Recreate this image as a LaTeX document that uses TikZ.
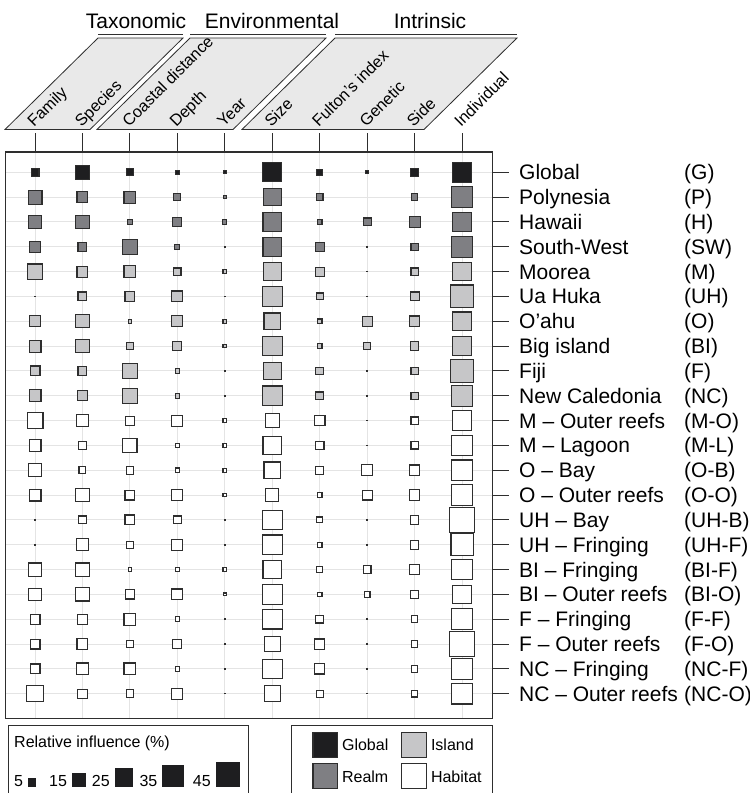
\documentclass[tikz,border=0pt]{standalone}
\usepackage{fontspec}
\setmainfont{Liberation Sans}
\usetikzlibrary{positioning,calc}

\definecolor{globfill}{HTML}{1E1E20}
\definecolor{realmfill}{HTML}{7F7F83}
\definecolor{islandfill}{HTML}{C6C6C8}
\definecolor{gridgray}{HTML}{E4E4E4}
\definecolor{linegray}{HTML}{2E2E2E}
\definecolor{headfill}{HTML}{E9E9E9}

\tikzset{
  cell/.style={rectangle, draw=linegray, line width=1.1pt, inner sep=0pt},
  rowlab/.style={inner sep=0pt, anchor=base west, font=\fontsize{21}{24}\selectfont},
  collab/.style={inner sep=0pt, anchor=base west, rotate=45, font=\fontsize{16.3}{19}\selectfont},
  grouplab/.style={inner sep=0pt, anchor=base, font=\fontsize{21}{24}\selectfont},
  legtext/.style={inner sep=0pt, anchor=base west, font=\fontsize{16}{19}\selectfont},
  headbox/.style={fill=headfill, draw=linegray, line width=0.8pt},
  frame/.style={draw=linegray, line width=1.3pt},
}

\begin{document}
\begin{tikzpicture}[x=1pt,y=-1pt]
\useasboundingbox (0,0) rectangle (750,793);
\clip (0,0) rectangle (750,793);

%group headers
\foreach \nm/\bl/\br/\mid in {Taxonomic/5/90/136, Environmental/97/233/272, Intrinsic/242/424/430} {
  \draw[headbox] (\bl,129.5) -- (\br,129.5) -- (\br+93,38) -- (\bl+93,38) -- cycle;
  \draw[linegray, line width=1.2pt] (\bl+93,34.5) -- (\br+93,34.5);
  \node[grouplab] (g\nm) at (\mid,28) {\nm};
}

%plot area
\node[rectangle, inner sep=0pt, minimum width=486.3pt, minimum height=566pt, anchor=north west] (plot) at (5.7,152) {};

%columns
\foreach \nm [count=\k] in {Family,Species,Coastal distance,Depth,Year,Size,Fulton’s index,Genetic,Side,Individual} {
  \pgfmathsetmacro\xx{35+(\k-1)*47.45}
  \coordinate (top\k) at (\xx,133);
  \draw[gridgray, line width=1pt] (top\k |- plot.north) -- (top\k |- plot.south);
  \draw[linegray, line width=1pt] (top\k) -- (top\k |- plot.north);
  \node[collab] (col\k) at (\xx-1,128) {\nm};
}

%rows: label / code / fill / ten cell sizes (0 = dot, -1 = none)
\foreach \lab/\ab/\fc/\va/\vb/\vc/\vd/\ve/\vf/\vg/\vh/\vi/\vj [count=\r] in {
  Global/G/globfill/9/14.7/8/5.3/4/20/6.7/4/9/20.7,
  Polynesia/P/realmfill/15/12/13/8/4/18.7/7.7/-1/7.7/21.7,
  Hawaii/H/realmfill/13.7/14.3/6.7/10/5.3/19.7/5.7/9/12/20,
  South-West/SW/realmfill/12.3/10/15.7/6/0/19.7/10.3/0/8.3/21.7,
  Moorea/M/islandfill/16.3/12/13/8.3/4.7/18.7/10/0/8.3/19.7,
  Ua Huka/UH/islandfill/0/10/11/12/0/21/8/0/10/24,
  O’ahu/O/islandfill/12/14.3/4.7/12/4.7/17.7/5.7/11/11.7/19.7,
  Big island/BI/islandfill/13/14.3/8.7/10/4.7/20.7/5.7/8/9.7/19.7,
  Fiji/F/islandfill/11/10/15.7/5.7/0/18.7/8.7/0/8.3/24,
  New Caledonia/NC/islandfill/13/11/15.7/5.7/0/20.7/8.7/0/8.3/21.7,
  M – Outer reefs/M-O/white/17/13.3/10/12/4.7/14.7/11.7/0/8.3/20.7,
  M – Lagoon/M-L/white/13/9/15.3/5.7/4.7/19.7/9.7/0/8.3/21.7,
  O – Bay/O-B/white/14/8/8.7/5.7/4.7/17.7/8.7/12/11.7/21.7,
  O – Outer reefs/O-O/white/13/14.3/11/12/4.7/14/5.7/11/11.7/21.7,
  UH – Bay/UH-B/white/0/9/11/9/0/20.7/7/0/9.7/25.7,
  UH – Fringing/UH-F/white/0/13.3/7.7/12/0/20.7/5.7/0/9.7/23.3,
  BI – Fringing/BI-F/white/14.3/14.3/4.7/5.7/4.7/19.7/6.7/8.7/11.7/21.7,
  BI – Outer reefs/BI-O/white/13.3/14.3/10.3/12/4/20.7/5.7/6.7/9.7/19.7,
  F – Fringing/F-F/white/11/11/13/5.7/0/20.7/8.7/0/7.7/21.7,
  F – Outer reefs/F-O/white/11/12/8.7/10/0/16.7/11.3/0/7.7/25.7,
  NC – Fringing/NC-F/white/11/13/13/5.7/0/20.7/11.3/0/7.7/21.7,
  NC – Outer reefs/NC-O/white/17.3/10.3/8.7/12/0/16.7/8/0/7.7/21.7} {
  \pgfmathsetmacro\yy{172.3+(\r-1)*24.83}
  \coordinate (row\r) at (5.7,\yy);
  \draw[gridgray, line width=1pt] (row\r) -- (row\r -| plot.east);
  \draw[linegray, line width=1pt] (row\r -| plot.east) -- ++(17,0);
  \node[rowlab] (lab\r) at (519,\yy+7.5) {\lab};
  \node[rowlab] (ab\r) at (684,\yy+7.5) {(\ab)};
  \foreach \v [count=\k] in {\va,\vb,\vc,\vd,\ve,\vf,\vg,\vh,\vi,\vj} {
    \pgfmathsetmacro\xx{35+(\k-1)*47.45}
    \ifdim\v pt<0pt\else
      \node[cell, fill=\fc, minimum size={max(\v-1.1,0.4)}] (c\r-\k) at (\xx,\yy) {};
    \fi
  }
}

\draw[frame] (plot.north west) rectangle (plot.south east);

%size key
\draw[frame, line width=1pt] (8.7,725) rectangle (248,810);
\node[legtext] (keytitle) at (14,747) {Relative influence (\%)};
\foreach \v/\s/\xx in {5/8.3/14, 15/14/49, 25/18.3/91.7, 35/21.7/139.3, 45/24.3/192.7} {
  \node[legtext] (n\v) at (\xx,786.7) {\v};
  \node[rectangle, fill=globfill, inner sep=0pt, minimum size=\s pt, anchor=south west] (s\v) at ([xshift=4.5pt]n\v.base east) {};
}

%level key
\draw[frame, line width=1pt] (291.7,725) rectangle (492.7,810);
\foreach \nm/\fc/\cx/\cy in {Global/globfill/325.3/744.7, Island/islandfill/414.2/744.7, Realm/realmfill/325.3/776.2, Habitat/white/414.2/776.2} {
  \node[cell, line width=1.2pt, fill=\fc, minimum size=24.8pt] (key\nm) at (\cx,\cy) {};
  \node[legtext] (keylab\nm) at (\cx+16.6,\cy+5.9) {\nm};
}

\end{tikzpicture}
\end{document}
